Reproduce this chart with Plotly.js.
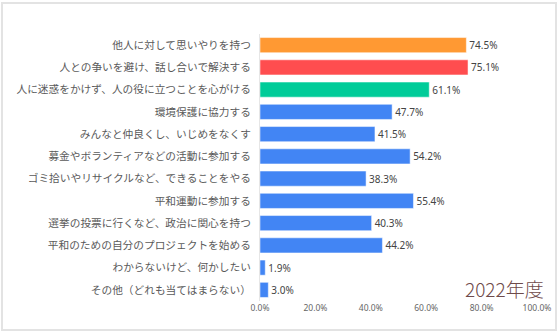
<!DOCTYPE html>
<html>
<head>
<meta charset="utf-8">
<script src="https://cdn.plot.ly/plotly-3.0.1.min.js"></script>
<style>
html,body{margin:0;padding:0;background:#fff;}
#chart{width:560px;height:333px;}
</style>
</head>
<body>
<div id="chart"></div>
<script>
var categories = [
  "他人に対して思いやりを持つ",
  "人との争いを避け、話し合いで解決する",
  "人に迷惑をかけず、人の役に立つことを心がける",
  "環境保護に協力する",
  "みんなと仲良くし、いじめをなくす",
  "募金やボランティアなどの活動に参加する",
  "ゴミ拾いやリサイクルなど、できることをやる",
  "平和運動に参加する",
  "選挙の投票に行くなど、政治に関心を持つ",
  "平和のための自分のプロジェクトを始める",
  "わからないけど、何かしたい",
  "その他（どれも当てはまらない）"
];
var values = [74.5, 75.1, 61.1, 47.7, 41.5, 54.2, 38.3, 55.4, 40.3, 44.2, 1.9, 3.0];
var barColors = ["#FF9933", "#FF4D4F", "#00CC99", "#4285F4", "#4285F4", "#4285F4",
                 "#4285F4", "#4285F4", "#4285F4", "#4285F4", "#4285F4", "#4285F4"];
var xTicks = [0, 20, 40, 60, 80, 100];
var yearLabel = "2022年度";

var trace = {
  type: "bar",
  orientation: "h",
  x: values,
  y: categories,
  marker: {color: barColors, line: {color: "rgba(255,255,255,0.5)", width: 1}},
  text: values.map(function(v){ return v.toFixed(1) + "%"; }),
  textposition: "outside",
  cliponaxis: false,
  textfont: {family: "Noto Sans, Arial, sans-serif", size: 10, color: "#444"},
  hoverinfo: "none"
};

var layout = {
  width: 560, height: 333,
  margin: {l: 260, r: 23, t: 34, b: 32},
  paper_bgcolor: "#fff",
  plot_bgcolor: "#fff",
  showlegend: false,
  bargap: 0.32,
  font: {family: "Noto Sans CJK JP, Noto Sans, sans-serif", color: "#555"},
  xaxis: {
    range: [0, 100],
    tickvals: xTicks,
    ticktext: xTicks.map(function(v){ return v.toFixed(1) + "%"; }),
    showgrid: false,
    zeroline: false,
    showline: false,
    ticks: "",
    tickfont: {family: "Noto Sans, Arial, sans-serif", size: 8.5, color: "#666"}
  },
  yaxis: {
    autorange: "reversed",
    showgrid: false,
    zeroline: false,
    showline: true,
    linecolor: "#e6e6e6",
    linewidth: 1,
    ticks: "outside",
    ticklen: 6,
    tickcolor: "rgba(0,0,0,0)",
    tickfont: {family: "Noto Sans CJK JP, sans-serif", size: 10.7, color: "#5a5a5a"}
  },
  shapes: [{
    type: "rect", xref: "paper", yref: "paper",
    x0: -258/277, x1: 1 + 19/277, y0: -29/266.6, y1: 1 + 31/266.6,
    line: {color: "#e3e3e3", width: 2}
  }],
  annotations: [{
    text: yearLabel, xref: "paper", yref: "paper",
    x: 1 + 9/277, y: (300.6 - 288) / 266.6, xanchor: "right", yanchor: "middle",
    showarrow: false,
    font: {family: "Noto Sans CJK JP, sans-serif", size: 19, color: "#6e4a4a", weight: 300}
  }]
};

Plotly.newPlot("chart", [trace], layout, {staticPlot: true, displayModeBar: false});
</script>
</body>
</html>
